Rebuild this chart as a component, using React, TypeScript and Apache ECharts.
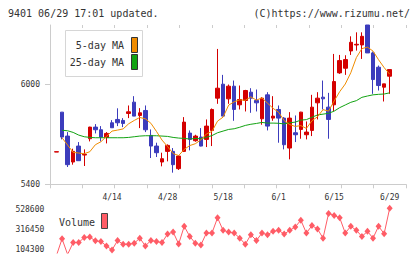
import React, { useEffect, useRef } from "react";
import * as echarts from "echarts";

// Trading days shown on the chart (M/D)
const dates = [
  "3/31", "4/3", "4/4", "4/5", "4/6", "4/7", "4/10", "4/11", "4/12", "4/13",
  "4/14", "4/17", "4/18", "4/19", "4/20", "4/21", "4/24", "4/25", "4/26", "4/27",
  "4/28", "5/1", "5/8", "5/9", "5/10", "5/11", "5/12", "5/15", "5/16", "5/17",
  "5/18", "5/19", "5/22", "5/23", "5/24", "5/25", "5/26", "5/29", "5/30", "5/31",
  "6/1", "6/2", "6/5", "6/6", "6/7", "6/8", "6/9", "6/12", "6/13", "6/14",
  "6/15", "6/16", "6/19", "6/20", "6/21", "6/22", "6/23", "6/26", "6/27", "6/28",
  "6/29",
];
// Empty slots kept at the right end of the time axis
const trailingSlots = ["", "", ""];
const labelledDates = ["4/14", "4/28", "5/18", "6/1", "6/15", "6/29"];

const opens = [
  5594, 5834, 5690, 5534, 5630, 5576, 5674, 5744, 5728, 5682,
  5770, 5790, 5784, 5826, 5894, 5814, 5844, 5694, 5630, 5534,
  5598, 5598, 5494, 5598, 5708, 5662, 5684, 5670, 5724, 5918,
  6002, 5914, 5990, 5878, 5904, 5954, 5904, 5794, 5938, 5798,
  5850, 5798, 5618, 5710, 5730, 5698, 5724, 5890, 5924, 5864,
  5878, 6070, 6098, 6202, 6238, 6238, 6358, 6190, 6104, 5984,
  6050,
];
const closes = [
  5596, 5684, 5518, 5598, 5542, 5580, 5744, 5728, 5684, 5706,
  5740, 5770, 5766, 5836, 5810, 5830, 5728, 5630, 5590, 5554,
  5634, 5518, 5570, 5774, 5670, 5690, 5630, 5750, 5850, 5978,
  5810, 5990, 5850, 5910, 5964, 5918, 5890, 5918, 5750, 5810,
  5798, 5638, 5798, 5698, 5834, 5714, 5864, 5918, 5914, 5790,
  6018, 6144, 6150, 6254, 6242, 6290, 6190, 6030, 5994, 6004,
  6090,
];
const lows = [
  5594, 5670, 5504, 5518, 5542, 5510, 5658, 5706, 5658, 5646,
  5740, 5750, 5744, 5798, 5810, 5738, 5714, 5558, 5564, 5508,
  5538, 5470, 5486, 5594, 5604, 5656, 5628, 5624, 5630, 5884,
  5810, 5884, 5782, 5850, 5838, 5830, 5838, 5758, 5724, 5782,
  5650, 5610, 5550, 5654, 5674, 5670, 5690, 5790, 5850, 5674,
  5840, 6064, 6058, 6178, 6204, 6154, 6190, 5944, 5964, 5898,
  5944,
];
const highs = [
  5596, 5834, 5714, 5614, 5654, 5610, 5746, 5762, 5750, 5714,
  5786, 5857, 5798, 5874, 5930, 5858, 5874, 5730, 5650, 5590,
  5640, 5618, 5574, 5804, 5724, 5698, 5738, 5790, 5856, 6214,
  6058, 6000, 6024, 5994, 5968, 5978, 5970, 5924, 5954, 5930,
  5874, 5804, 5834, 5814, 5836, 5778, 5938, 5954, 6024, 5950,
  6184, 6178, 6176, 6290, 6314, 6314, 6358, 6198, 6114, 6004,
  6090,
];

const ma5 = [
  null, 5680, 5636, 5592, 5588, 5584, 5596, 5638, 5656, 5688,
  5720, 5726, 5733, 5764, 5784, 5802, 5794, 5767, 5718, 5666,
  5627, 5585, 5573, 5610, 5633, 5644, 5667, 5703, 5718, 5780,
  5804, 5876, 5896, 5908, 5905, 5926, 5906, 5920, 5888, 5857,
  5833, 5783, 5759, 5748, 5753, 5736, 5782, 5806, 5849, 5840,
  5901, 5957, 6003, 6071, 6162, 6216, 6225, 6201, 6149, 6102,
  6062,
];
const ma25 = [
  null, 5725, 5722, 5712, 5696, 5686, 5682, 5680, 5680, 5680,
  5680, 5680, 5680, 5682, 5686, 5690, 5692, 5692, 5692, 5690,
  5688, 5682, 5678, 5676, 5672, 5676, 5674, 5683, 5693, 5710,
  5720, 5730, 5734, 5743, 5754, 5761, 5766, 5772, 5768, 5768,
  5767, 5763, 5770, 5774, 5786, 5789, 5803, 5817, 5822, 5827,
  5840, 5861, 5877, 5893, 5903, 5923, 5931, 5938, 5941, 5943,
  5950,
];

const volumes = [
  40000, 215500, 50000, 176000, 176000, 230000, 233500, 194000, 186700, 140000,
  96700, 197500, 158000, 158000, 168700, 222700, 140000, 197500, 186700, 176000,
  266000, 287500, 161500, 348700, 240700, 168700, 150700, 276700, 276700, 438700,
  305500, 287500, 276700, 222700, 158000, 258700, 197500, 276700, 258700, 294700,
  305500, 266000, 305500, 341500, 413500, 276700, 356000, 320000, 222700, 485500,
  464000, 438700, 276700, 348700, 305500, 240700, 294700, 222700, 348700, 269500,
  539500,
];

const priceTicks = [5400, 6000];
const volumeTicks = [104300, 316450, 528600];

const headerLeft = "9401 06/29 17:01 updated.";
const headerRight = "(C)https://www.rizumu.net/";
const ma5Name = "5-day MA";
const ma25Name = "25-day MA";
const volumeName = "Volume";

const UP = "#d40000";
const DOWN = "#3c3cbc";
const ORANGE = "#f08c00";
const GREEN = "#12a312";
const VOL = "#ff5c66";
const AXIS = "#cccccc";
const TEXT = "#333333";
const MONO = "'DejaVu Sans Mono', monospace";

const plain = (v: number) => String(v);

export default function App() {
  const ref = useRef<HTMLDivElement>(null);

  useEffect(() => {
    if (!ref.current) return;
    const chart = echarts.init(ref.current, undefined, { renderer: "svg" });

    const cats = [...dates, ...trailingSlots];
    const candles = dates.map((_, i) => [opens[i], closes[i], lows[i], highs[i]]);
    const priceMin = 5400;
    const priceMax = Math.max(...highs);
    const slot = 5.553;
    const plotLeft = 50;
    const plotWidth = 356;
    const dataLeft = plotLeft + 6.5 - slot / 2;
    const dataWidth = slot * cats.length;

    const legendText = (text: string, y: number) => ({
      type: "text",
      x: 124,
      y,
      style: {
        text,
        font: `10px ${MONO}`,
        fill: TEXT,
        textAlign: "right",
        textVerticalAlign: "middle",
        align: "right",
        verticalAlign: "middle",
      },
    });

    chart.setOption({
      animation: false,
      backgroundColor: "#ffffff",
      grid: [
        { left: plotLeft, top: 25, width: plotWidth, height: 159.3 },
        { left: dataLeft, top: 25, width: dataWidth, height: 159.3 },
        { left: dataLeft, top: 204, width: dataWidth, height: 49 },
      ],
      xAxis: [
        {
          gridIndex: 0, type: "value", min: 0, max: 11, interval: 1,
          axisLine: { show: true, lineStyle: { color: AXIS, width: 1 } },
          axisTick: { show: true, length: 4, lineStyle: { color: AXIS } },
          axisLabel: { show: false }, splitLine: { show: false },
        },
        {
          gridIndex: 0, type: "value", min: 0, max: 11, interval: 1,
          axisLine: { show: false },
          axisTick: { show: true, inside: true, length: 3, lineStyle: { color: AXIS } },
          axisLabel: { show: false }, splitLine: { show: false },
        },
        {
          gridIndex: 1, type: "category", data: cats, boundaryGap: true,
          axisLine: { show: false }, axisTick: { show: false }, splitLine: { show: false },
          axisLabel: {
            interval: (_: number, v: string) => labelledDates.includes(v),
            margin: 9,
            fontSize: 8,
            fontFamily: MONO,
            color: TEXT,
          },
        },
        {
          gridIndex: 2, type: "category", data: cats, boundaryGap: true, show: false,
        },
      ],
      yAxis: [
        {
          gridIndex: 0, type: "value", min: priceMin, max: priceMax,
          axisLine: { show: true, lineStyle: { color: AXIS, width: 1 } },
          axisTick: { show: true, length: 5, customValues: priceTicks, lineStyle: { color: AXIS } },
          axisLabel: {
            customValues: priceTicks, formatter: plain,
            margin: 10, fontSize: 8, fontFamily: MONO, color: TEXT,
          },
          splitLine: { show: false },
        },
        {
          gridIndex: 0, type: "value", min: priceMin, max: priceMax,
          axisLine: { show: false },
          axisTick: { show: true, inside: true, length: 3, customValues: priceTicks, lineStyle: { color: AXIS } },
          axisLabel: { show: false }, splitLine: { show: false },
        },
        { gridIndex: 1, type: "value", min: priceMin, max: priceMax, show: false },
        {
          gridIndex: 2, type: "value", min: 65000, max: 585000,
          axisLine: { show: false }, axisTick: { show: false }, splitLine: { show: false },
          axisLabel: {
            customValues: volumeTicks, formatter: plain,
            margin: 9.4, fontSize: 8, fontFamily: MONO, color: TEXT,
          },
        },
      ],
      series: [
        {
          type: "candlestick", name: "price", xAxisIndex: 2, yAxisIndex: 2,
          data: candles, barWidth: 4,
          itemStyle: { color: UP, color0: DOWN, borderColor: UP, borderColor0: DOWN, borderWidth: 1 },
        },
        {
          type: "line", name: ma25Name, xAxisIndex: 2, yAxisIndex: 2, data: ma25,
          showSymbol: false, symbol: "none", lineStyle: { color: GREEN, width: 1 }, z: 3,
        },
        {
          type: "line", name: ma5Name, xAxisIndex: 2, yAxisIndex: 2, data: ma5,
          showSymbol: false, symbol: "none", lineStyle: { color: ORANGE, width: 1 }, z: 3,
        },
        {
          type: "line", name: volumeName, xAxisIndex: 3, yAxisIndex: 3, data: volumes,
          symbol: "diamond", symbolSize: [6, 7], showSymbol: true, showAllSymbol: true,
          lineStyle: { color: VOL, width: 1 }, itemStyle: { color: VOL },
        },
      ],
      graphic: [
        {
          type: "text", x: 8, y: 13,
          style: { text: headerLeft, font: `10px ${MONO}`, fill: TEXT, textVerticalAlign: "middle", verticalAlign: "middle" },
        },
        {
          type: "text", x: 410, y: 13,
          style: {
            text: headerRight, font: `10px ${MONO}`, fill: TEXT,
            textAlign: "right", align: "right", textVerticalAlign: "middle", verticalAlign: "middle",
          },
        },
        {
          type: "rect", shape: { x: 65.5, y: 30.5, width: 77, height: 46 },
          style: { fill: "#ffffff", stroke: "#d6d6d6", lineWidth: 1 }, z: 10,
        },
        { ...legendText(ma5Name, 45.5), z: 11 },
        { ...legendText(ma25Name, 62), z: 11 },
        {
          type: "rect", shape: { x: 131.5, y: 37.5, width: 6, height: 15 },
          style: { fill: ORANGE, stroke: "#333333", lineWidth: 1 }, z: 11,
        },
        {
          type: "rect", shape: { x: 131.5, y: 54.5, width: 6, height: 15 },
          style: { fill: GREEN, stroke: "#333333", lineWidth: 1 }, z: 11,
        },
        {
          type: "text", x: 59, y: 222.5,
          style: { text: volumeName, font: `10px ${MONO}`, fill: TEXT, textVerticalAlign: "middle", verticalAlign: "middle" },
          z: 11,
        },
        {
          type: "rect", shape: { x: 101.5, y: 213.5, width: 6, height: 15 },
          style: { fill: VOL, stroke: "#444444", lineWidth: 1 }, z: 11,
        },
      ],
    });

    return () => chart.dispose();
  }, []);

  return (
    <div
      ref={ref}
      style={{ position: "fixed", left: 0, top: 0, width: 420, height: 259, background: "#fff" }}
    />
  );
}
